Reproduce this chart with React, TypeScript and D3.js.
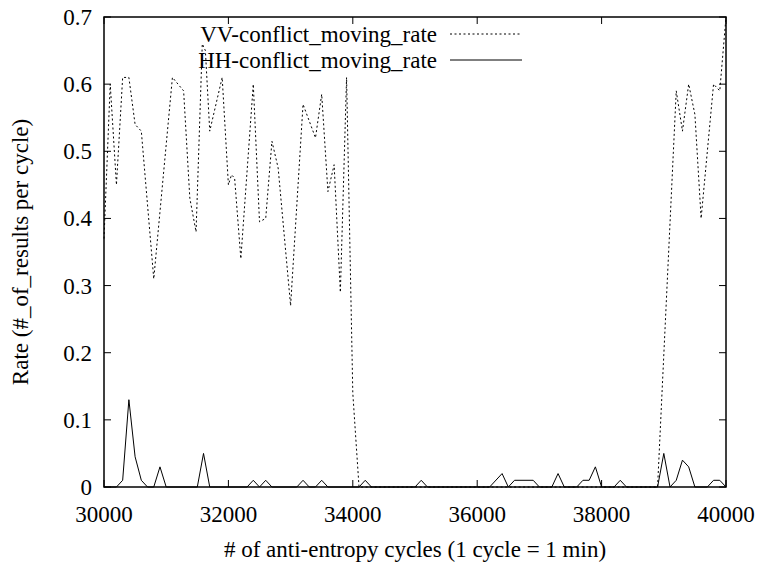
import React from 'react';
import * as d3 from 'd3';

// VV-conflict_moving_rate (vertices)
const vvCycles = [
  30000, 30100, 30200, 30300, 30400, 30500, 30600, 30800, 31100, 31280, 31380, 31480,
  31580, 31630, 31700, 31900, 32000, 32050, 32100, 32200, 32400, 32500, 32600, 32700,
  32800, 33000, 33200, 33400, 33500, 33600, 33700, 33800, 33900, 34000, 34100, 38900,
  39200, 39300, 39400, 39500, 39600, 39800, 39900, 40000,
];
const vvRates = [
  0.37, 0.6, 0.45, 0.61, 0.61, 0.54, 0.53, 0.31, 0.61, 0.59, 0.43, 0.38,
  0.66, 0.65, 0.53, 0.61, 0.45, 0.465, 0.46, 0.34, 0.6, 0.395, 0.4, 0.515,
  0.475, 0.27, 0.57, 0.52, 0.585, 0.44, 0.48, 0.29, 0.61, 0.14, 0, 0,
  0.59, 0.53, 0.6, 0.555, 0.4, 0.6, 0.59, 0.7,
];

// HH-conflict_moving_rate
const hhCycles = [
  30000, 30200, 30300, 30400, 30500, 30600, 30700, 30800, 30900, 31000, 31500, 31600,
  31700, 32300, 32400, 32500, 32600, 32700, 33100, 33200, 33300, 33400, 33500, 33600,
  34100, 34200, 34300, 35000, 35100, 35200, 36200, 36400, 36500, 36600, 36900, 37000,
  37200, 37300, 37400, 37600, 37700, 37800, 37900, 38000, 38200, 38300, 38400, 38900,
  39000, 39100, 39200, 39300, 39400, 39500, 39700, 39800, 39900, 40000,
];
const hhRates = [
  0, 0, 0.01, 0.13, 0.045, 0.01, 0, 0, 0.03, 0, 0, 0.05,
  0, 0, 0.01, 0, 0.01, 0, 0, 0.01, 0, 0, 0.01, 0,
  0, 0.01, 0, 0, 0.01, 0, 0, 0.02, 0, 0.01, 0.01, 0,
  0, 0.02, 0, 0, 0.01, 0.01, 0.03, 0, 0, 0.01, 0, 0,
  0.05, 0, 0.01, 0.04, 0.03, 0, 0, 0.01, 0.01, 0,
];

const xTicks = [30000, 32000, 34000, 36000, 38000, 40000];
const yTicks = [0, 0.1, 0.2, 0.3, 0.4, 0.5, 0.6, 0.7];

const W = 757;
const H = 568;
const left = 104, right = 726, top = 17, bottom = 487;
const tickLen = 7;
const textStyle = { fontFamily: "'Liberation Serif', 'Times New Roman', Times, serif", fontSize: '23px' };

const App = () => {
  const x = d3.scaleLinear().domain([30000, 40000]).range([left, right]);
  const y = d3.scaleLinear().domain([0, 0.7]).range([bottom, top]);

  const rateLine = d3
    .line<[number, number]>()
    .x((d) => x(d[0]))
    .y((d) => y(d[1]));

  const vvPath = rateLine(vvCycles.map((c, i) => [c, vvRates[i]]));
  const hhPath = rateLine(hhCycles.map((c, i) => [c, hhRates[i]]));

  return (
    <svg width={W} height={H} style={{ position: 'absolute', left: 0, top: 0, background: '#fff' }}>
      <rect x={0} y={0} width={W} height={H} fill="#fff" />

      {/* ticks, mirrored on all sides */}
      {yTicks.map((t) => (
        <g key={'y' + t}>
          <line x1={left} x2={left + tickLen} y1={y(t)} y2={y(t)} stroke="#000" />
          <line x1={right} x2={right - tickLen} y1={y(t)} y2={y(t)} stroke="#000" />
          <text x={left - 12} y={y(t) + 8} textAnchor="end" style={textStyle}>
            {d3.format('~g')(t)}
          </text>
        </g>
      ))}
      {xTicks.map((t) => (
        <g key={'x' + t}>
          <line x1={x(t)} x2={x(t)} y1={bottom} y2={bottom - tickLen} stroke="#000" />
          <line x1={x(t)} x2={x(t)} y1={top} y2={top + tickLen} stroke="#000" />
          <text x={x(t)} y={522} textAnchor="middle" style={textStyle}>
            {t}
          </text>
        </g>
      ))}

      {/* data */}
      <path d={vvPath ?? ''} fill="none" stroke="#000" strokeWidth={1} strokeDasharray="2,2.5" />
      <path d={hhPath ?? ''} fill="none" stroke="#000" strokeWidth={1} />

      {/* border */}
      <rect x={left} y={top} width={right - left} height={bottom - top} fill="none" stroke="#000" strokeWidth={1.5} />

      {/* key */}
      <text x={437} y={42} textAnchor="end" style={textStyle}>VV-conflict_moving_rate</text>
      <line x1={450} x2={522} y1={34} y2={34} stroke="#000" strokeDasharray="2,2.5" />
      <text x={437} y={68} textAnchor="end" style={textStyle}>HH-conflict_moving_rate</text>
      <line x1={450} x2={522} y1={60} y2={60} stroke="#000" />

      {/* axis titles */}
      <text x={(left + right) / 2} y={557} textAnchor="middle" style={textStyle}>
        # of anti-entropy cycles (1 cycle = 1 min)
      </text>
      <text
        transform={`translate(28,${(top + bottom) / 2}) rotate(-90)`}
        textAnchor="middle"
        style={textStyle}
      >
        Rate (#_of_results per cycle)
      </text>
    </svg>
  );
};

export default App;
